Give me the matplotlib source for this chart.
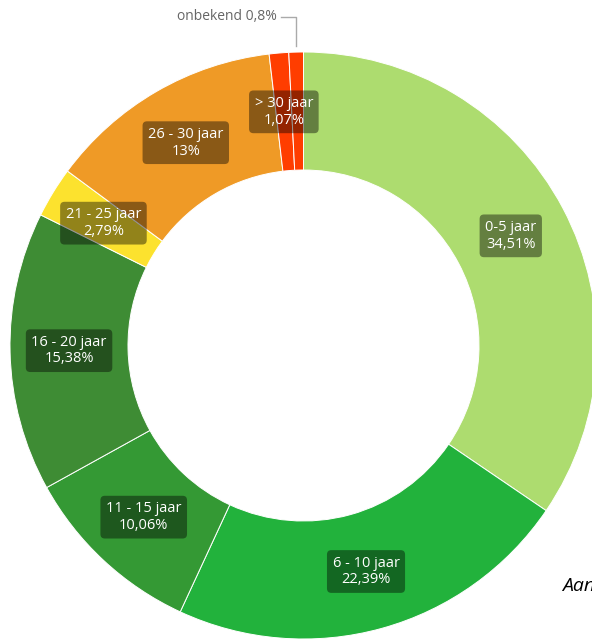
import numpy as np
import matplotlib.pyplot as plt

plt.rcParams['font.family'] = ['Open Sans', 'DejaVu Sans']

# leeftijd van het wagenpark
categories = ['0-5 jaar', '6 - 10 jaar', '11 - 15 jaar', '16 - 20 jaar',
              '21 - 25 jaar', '26 - 30 jaar', '> 30 jaar', 'onbekend']
values = [34.51, 22.39, 10.06, 15.38, 2.79, 13, 1.07, 0.8]
colors = ['#addc6f', '#22b23c', '#349934', '#3e8c34',
          '#fce22e', '#ef9a26', '#ff3d00', '#ff3d00']
outside = ['onbekend']

W, H = 592, 641
cx, cy = 303.5, H - 345.5
R, r = 293.5, 175.5


def fmt(v):
    return f"{v:g}".replace('.', ',') + '%'


fig = plt.figure(figsize=(W / 100, H / 100), dpi=100)
ax = fig.add_axes([0, 0, 1, 1])
ax.pie(values, colors=colors, startangle=90, counterclock=False,
       radius=R, center=(cx, cy),
       wedgeprops=dict(width=R - r, edgecolor='white', linewidth=0.7))
ax.set_xlim(0, W)
ax.set_ylim(0, H)
ax.set_aspect('equal')
ax.axis('off')

total = sum(values)
start = 0.0
for cat, v in zip(categories, values):
    mid = (start + v / 2) / total * 2 * np.pi
    start += v
    if cat in outside:
        ex = cx + R * np.sin(mid)
        ey = cy + R * np.cos(mid) + 6
        ty = H - 17
        ax.plot([ex, ex, ex - 15], [ey, ty, ty], color='#aaaaaa', lw=1)
        ax.text(ex - 19, ty, f"{cat} {fmt(v)}", ha='right', va='center',
                fontsize=10, color='#666666')
        continue
    rm = (R + r) / 2
    x = cx + rm * np.sin(mid)
    y = cy + rm * np.cos(mid)
    ax.text(x, y, f"{cat}\n{fmt(v)}", ha='center', va='center',
            fontsize=10.5, color='white', linespacing=1.15,
            bbox=dict(boxstyle='round,pad=0.38,rounding_size=0.3',
                      facecolor='black', alpha=0.42, edgecolor='none'))

ax.text(562, H - 586, 'Aantal', fontsize=14, style='italic',
        color='black', va='center', ha='left', clip_on=False)

fig.savefig('out.png', dpi=100)
